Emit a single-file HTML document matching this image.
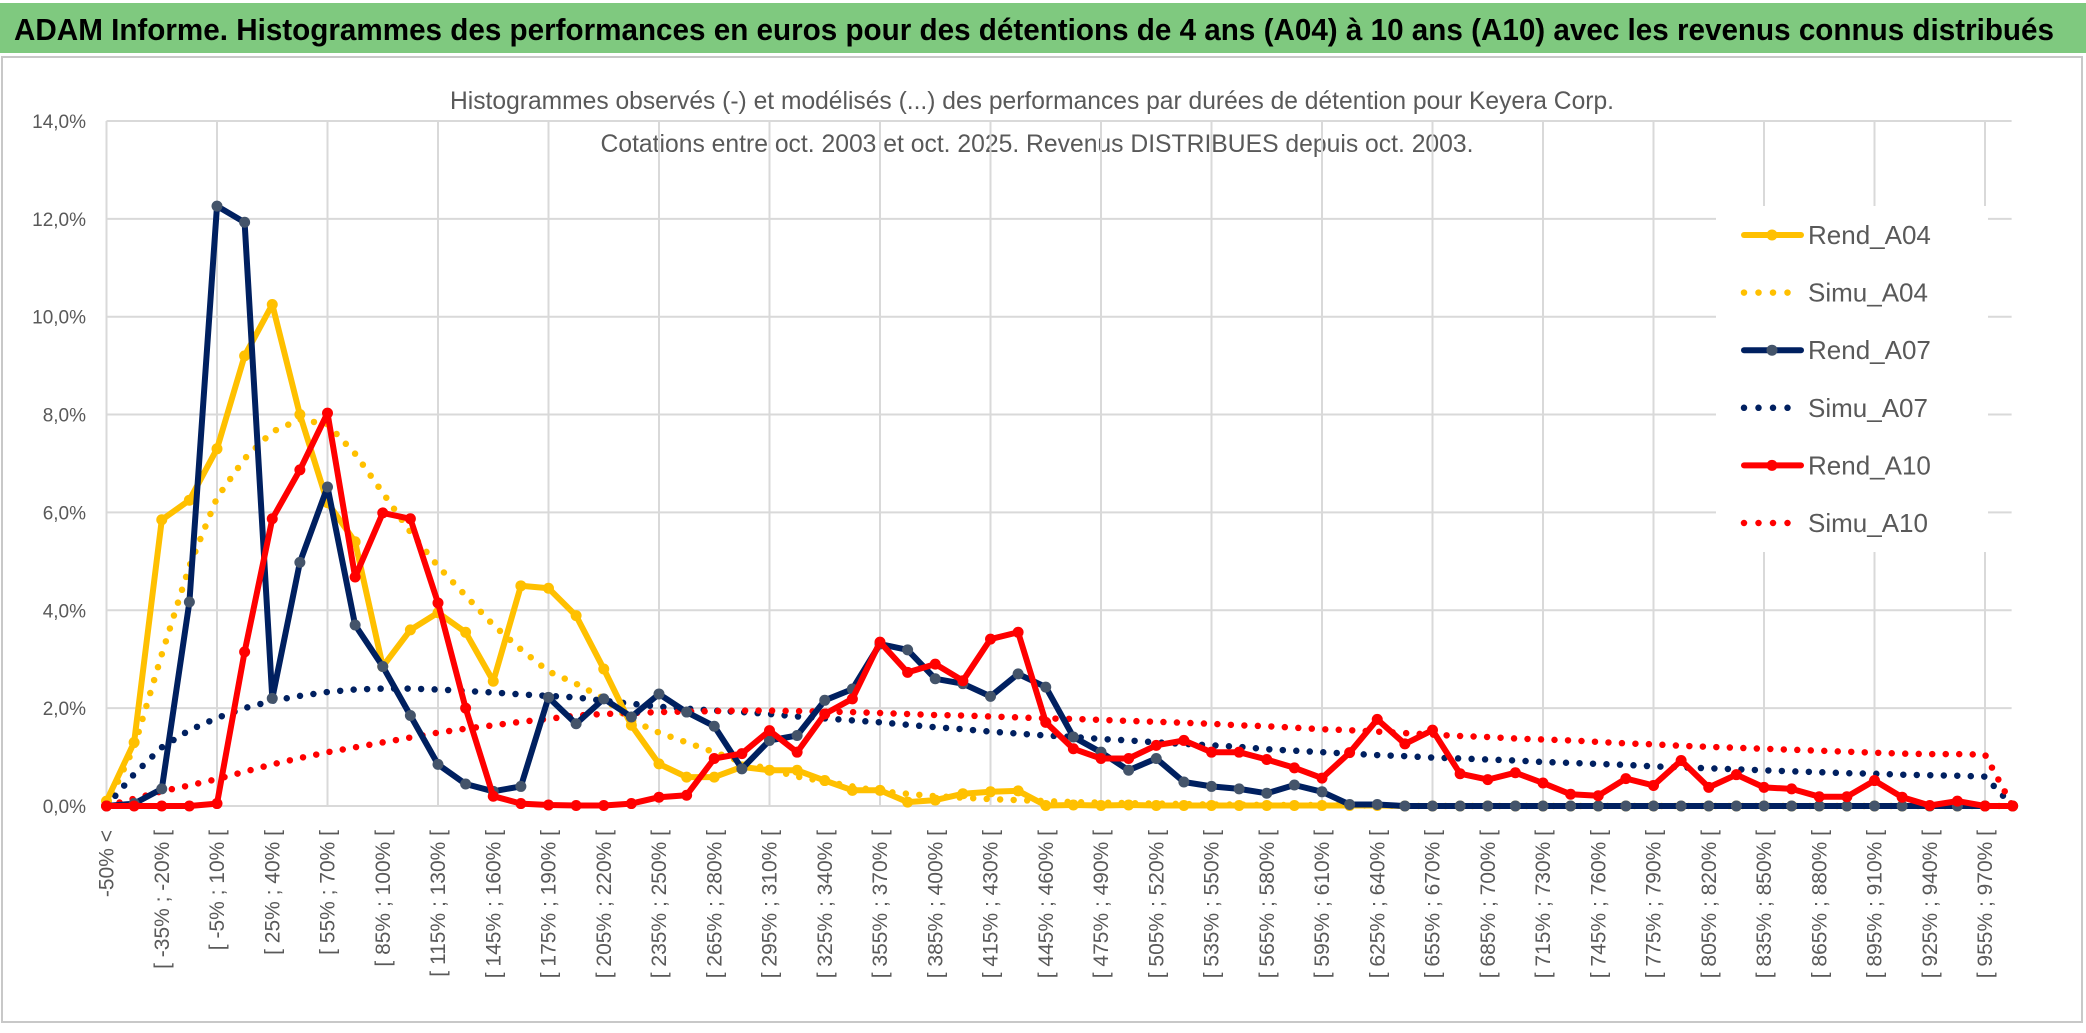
<!DOCTYPE html>
<html><head><meta charset="utf-8"><style>
html,body{margin:0;padding:0;background:#fff;}
svg{display:block;font-family:"Liberation Sans",sans-serif;}
</style></head><body>
<svg id="chart" width="2086" height="1033" viewBox="0 0 2086 1033" xmlns="http://www.w3.org/2000/svg">
<rect x="0" y="0" width="2086" height="1033" fill="#fff"/>
<rect x="0" y="3" width="2086" height="50" fill="#7fc97f"/>
<text x="14" y="40" font-size="31" font-weight="bold" fill="#000" textLength="2040" lengthAdjust="spacingAndGlyphs">ADAM Informe. Histogrammes des performances en euros pour des détentions de 4 ans (A04) à 10 ans (A10) avec les revenus connus distribués</text>
<rect x="2" y="57" width="2080" height="965" fill="none" stroke="#c8c8c8" stroke-width="2"/>
<text x="1032" y="109" font-size="25" fill="#595959" text-anchor="middle" textLength="1164" lengthAdjust="spacingAndGlyphs">Histogrammes observés (-) et modélisés (...) des performances par durées de détention pour Keyera Corp.</text>
<text x="1037" y="152" font-size="25" fill="#595959" text-anchor="middle" textLength="873" lengthAdjust="spacingAndGlyphs">Cotations entre oct. 2003 et oct. 2025. Revenus DISTRIBUES depuis oct. 2003.</text>
<g id="grid"></g>
<g id="axes"></g>
<g id="series"></g>
<g id="legend"></g>
</svg>
<script>
const categoryCount = 70;
const yTicks = [0, 2, 4, 6, 8, 10, 12, 14];
const rendA04 = [0.1,1.3,5.85,6.25,7.3,9.2,10.25,8.0,6.2,5.4,2.85,3.6,3.95,3.55,2.55,4.5,4.45,3.89,2.8,1.65,0.86,0.59,0.59,0.8,0.73,0.73,0.52,0.32,0.32,0.08,0.12,0.25,0.29,0.31,0.01,0.02,0.01,0.02,0.01,0.01,0.01,0.01,0.01,0.01,0.01,0.01,0.01,0,0,0,0,0,0,0,0,0,0,0,0,0,0,0,0,0,0,0,0,0,0,0];
const simuA04 = [0,1.2,3.1,4.9,6.3,7.1,7.65,7.9,7.8,7.2,6.4,5.6,4.9,4.3,3.7,3.2,2.75,2.5,2.2,1.75,1.5,1.3,1.1,0.9,0.75,0.6,0.5,0.4,0.3,0.25,0.2,0.17,0.14,0.12,0.1,0.08,0.07,0.06,0.05,0.04,0.03,0.03,0.02,0.02,0.02,0.01,0.01,0,0,0,0,0,0,0,0,0,0,0,0,0,0,0,0,0,0,0,0,0,0,0];
const rendA07 = [0,0.05,0.35,4.17,12.26,11.93,2.2,4.98,6.52,3.7,2.85,1.85,0.85,0.45,0.3,0.4,2.22,1.68,2.19,1.82,2.29,1.92,1.63,0.76,1.34,1.44,2.16,2.39,3.31,3.19,2.6,2.5,2.24,2.7,2.43,1.41,1.1,0.73,0.97,0.49,0.4,0.35,0.26,0.43,0.29,0.03,0.03,0,0,0,0,0,0,0,0,0,0,0,0,0,0,0,0,0,0,0,0,0,0,0];
const simuA07 = [0,0.65,1.2,1.55,1.8,2.0,2.15,2.25,2.33,2.38,2.4,2.4,2.38,2.35,2.32,2.28,2.25,2.22,2.15,2.09,2.03,1.99,1.95,1.92,1.88,1.83,1.79,1.75,1.71,1.66,1.61,1.57,1.52,1.48,1.44,1.41,1.37,1.34,1.3,1.27,1.24,1.21,1.16,1.13,1.1,1.07,1.04,1.02,0.99,0.97,0.95,0.93,0.9,0.88,0.86,0.84,0.81,0.79,0.77,0.75,0.73,0.71,0.69,0.67,0.66,0.64,0.63,0.62,0.6,0];
const rendA10 = [0,0,0,0,0.05,3.15,5.87,6.87,8.03,4.68,5.99,5.87,4.15,2.0,0.2,0.05,0.02,0.01,0.01,0.05,0.18,0.22,0.97,1.07,1.54,1.1,1.88,2.19,3.35,2.73,2.9,2.56,3.41,3.55,1.71,1.17,0.97,0.97,1.24,1.34,1.1,1.1,0.95,0.78,0.57,1.09,1.77,1.27,1.55,0.66,0.54,0.68,0.47,0.24,0.21,0.56,0.42,0.93,0.38,0.64,0.38,0.35,0.19,0.19,0.52,0.18,0.01,0.1,0,0];
const simuA10 = [0,0.15,0.3,0.42,0.55,0.7,0.85,0.98,1.1,1.2,1.3,1.4,1.5,1.58,1.65,1.72,1.78,1.85,1.88,1.9,1.92,1.93,1.94,1.95,1.95,1.94,1.93,1.92,1.9,1.88,1.86,1.85,1.83,1.81,1.79,1.78,1.76,1.74,1.72,1.7,1.68,1.65,1.63,1.6,1.57,1.55,1.52,1.49,1.46,1.43,1.41,1.38,1.36,1.34,1.31,1.28,1.26,1.23,1.21,1.19,1.17,1.15,1.13,1.11,1.09,1.07,1.06,1.06,1.05,0];

const NS = "http://www.w3.org/2000/svg";
const X0 = 106.5, DX = 27.625, Y0 = 806, DY = 48.93;
function xs(i){ return X0 + DX * i; }
function ys(v){ return Y0 - DY * v; }
function catLabel(i){
  if (i === 0) return "-50% <";
  const a = -50 + 15 * (i - 1);
  return "[ " + a + "% ; " + (a + 15) + "% [";
}
function mk(tag, attrs, parent){
  const el = document.createElementNS(NS, tag);
  for (const k in attrs) el.setAttribute(k, attrs[k]);
  parent.appendChild(el);
  return el;
}
const grid = document.getElementById("grid");
const axes = document.getElementById("axes");
const seriesG = document.getElementById("series");
const legendG = document.getElementById("legend");
const xRight = xs(categoryCount - 1) - 1;

yTicks.forEach(t => {
  const l = mk("line", {x1: X0, x2: xRight, y1: ys(t), y2: ys(t), stroke: "#d9d9d9", "stroke-width": 2}, grid);
  
  
  const tx = mk("text", {x: 86, y: ys(t) + 7, "font-size": 19, fill: "#595959", "text-anchor": "end"}, axes);
  tx.textContent = t.toFixed(1).replace(".", ",") + "%";
  
  
});
for (let i = 0; i < categoryCount; i++) {
  if (i % 4 === 0) {
    const l = mk("line", {x1: xs(i), x2: xs(i), y1: ys(14), y2: ys(0), stroke: "#d9d9d9", "stroke-width": 2}, grid);
    
    
  }
  if (i % 2 === 0) {
    const tx = mk("text", {x: 0, y: 0, "font-size": 21, fill: "#595959", "text-anchor": "end",
      transform: "translate(" + (xs(i) + 7) + ",830) rotate(-90)"}, axes);
    tx.textContent = catLabel(i);
    
    
  }
}

function pts(arr){ return arr.map((v, i) => xs(i).toFixed(1) + "," + ys(v).toFixed(1)).join(" "); }
function dotted(arr, color, name){
  const p = mk("polyline", {points: pts(arr), fill: "none", stroke: color, "stroke-width": 6.5,
    "stroke-linecap": "round", "stroke-dasharray": "0 13.5"}, seriesG);
  
  
}
function solid(arr, color, mColor, name){
  const p = mk("polyline", {points: pts(arr), fill: "none", stroke: color, "stroke-width": 6,
    "stroke-linejoin": "round"}, seriesG);
  
  
  arr.forEach((v, i) => {
    const c = mk("circle", {cx: xs(i), cy: ys(v), r: 5.5, fill: mColor}, seriesG);
    
    
  });
}
dotted(simuA04, "#ffc000", "simu-a04-line");
dotted(simuA07, "#002060", "simu-a07-line");
dotted(simuA10, "#ff0000", "simu-a10-line");
solid(rendA04, "#ffc000", "#ffc000", "rend-a04-line");
solid(rendA07, "#002060", "#44546a", "rend-a07-line");
solid(rendA10, "#ff0000", "#ff0000", "rend-a10-line");

const lb = mk("rect", {x: 1716, y: 206, width: 272, height: 346, fill: "#fff"}, legendG);


const legendNames = ["Rend_A04","Simu_A04","Rend_A07","Simu_A07","Rend_A10","Simu_A10"];
const legendColors = ["#ffc000","#ffc000","#002060","#002060","#ff0000","#ff0000"];
legendNames.forEach((n, k) => {
  const y = 235 + k * 57.6;
  const isSolid = k % 2 === 0;
  const l = mk("line", {x1: 1744, x2: 1801, y1: y, y2: y, stroke: legendColors[k], "stroke-width": isSolid ? 6 : 6.5,
    "stroke-linecap": "round"}, legendG);
  if (!isSolid) l.setAttribute("stroke-dasharray", "0 14.5");
  
  
  if (isSolid) {
    const c = mk("circle", {cx: 1772, cy: y, r: 5.5, fill: k === 2 ? "#44546a" : legendColors[k]}, legendG);
    
    
  }
  const t = mk("text", {x: 1808, y: y + 9, "font-size": 26, fill: "#595959"}, legendG);
  t.textContent = n;
  
  
});
</script>
</body></html>
